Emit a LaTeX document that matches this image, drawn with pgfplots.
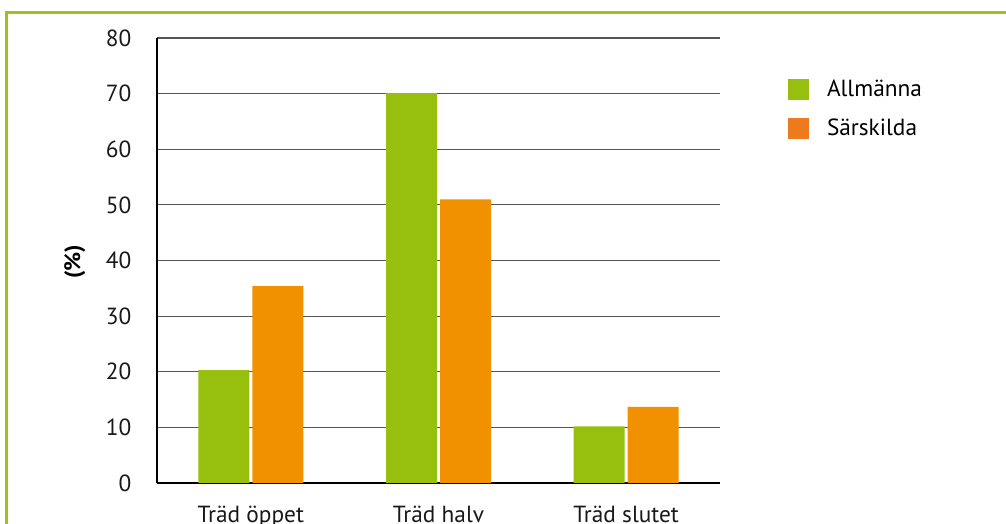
\documentclass[border=0pt]{standalone}
\usepackage{pgfplots}
\pgfplotsset{compat=1.18}
\usepackage{fontspec}
\setmainfont{PT Sans}
\definecolor{framegreen}{HTML}{9BC31C}
\definecolor{bargreen}{HTML}{97BF0D}
\definecolor{barorange}{HTML}{F29100}
\definecolor{keyorange}{HTML}{EE7A1E}
\definecolor{gridgray}{HTML}{555555}

\begin{document}
\begin{tikzpicture}
% page area and the green frame (top and left edge)
\useasboundingbox (0,0) rectangle (754.5pt,393pt);
\draw[framegreen, line width=2.2pt] (4.9pt,-2pt) -- (4.9pt,383.6pt) -- (760pt,383.6pt);

\begin{axis}[
  at={(117.75pt,30.75pt)}, anchor=south west,
  scale only axis,
  width=422.25pt, height=333.75pt,
  xmin=-0.5, xmax=2.5,
  ymin=0, ymax=80,
  xtick={0,1,2},
  xticklabels={Träd öppet, Träd halv, Träd slutet},
  ytick={0,10,...,80},
  major tick length=0pt,
  axis x line*=bottom, axis y line*=left,
  axis line style={line width=1.6pt, black, -},
  ymajorgrids,
  grid style={gridgray, line width=0.9pt},
  tick label style={font=\fontsize{17.5}{20}\selectfont, text=black!90},
  /pgf/number format/assume math mode=true,
  yticklabel style={inner sep=0pt, anchor=east, xshift=-19pt},
  xticklabel style={inner sep=0pt, anchor=north, yshift=-17pt},
  ylabel={\textbf{(\%)}},
  ylabel style={font=\fontsize{17}{20}\selectfont, at={(axis description cs:-0.146,0.497)}, anchor=center},
  ybar, bar width=38.25pt,
  legend style={draw=none, fill=none, at={(rel axis cs:1.12,0.913)}, anchor=north west,
    font=\fontsize{17.5}{20}\selectfont, row sep=11.5pt, inner sep=0pt,
    /tikz/every even column/.append style={column sep=0pt}},
  legend cell align=left,
  clip=false,
]
\addplot[fill=bargreen, draw=none, bar shift=-20.25pt, forget plot]
  coordinates {(0,20.3) (1,70.1) (2,10.2)};
\addplot[fill=barorange, draw=none, bar shift=20.25pt, forget plot]
  coordinates {(0,35.4) (1,51.0) (2,13.7)};
\addlegendimage{legend image code/.code={\fill[bargreen] (0pt,-7.5pt) rectangle (15pt,7.5pt); \path (27pt,0pt);}}
\addlegendentry{Allmänna}
\addlegendimage{legend image code/.code={\fill[keyorange] (0pt,-7.5pt) rectangle (15pt,7.5pt); \path (27pt,0pt);}}
\addlegendentry{Särskilda}
\end{axis}
\end{tikzpicture}
\end{document}
